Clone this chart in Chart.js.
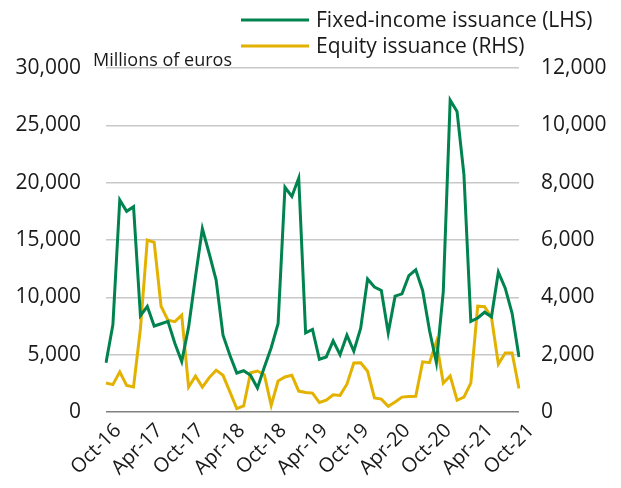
<!DOCTYPE html>
<html>
<head>
<meta charset="utf-8">
<script src="https://cdn.jsdelivr.net/npm/chart.js@4/dist/chart.umd.min.js"></script>
<style>
  html, body { margin: 0; padding: 0; background: #ffffff; }
  #wrap { width: 621px; height: 488px; }
</style>
</head>
<body>
<div id="wrap"><canvas id="chart" width="621" height="488"></canvas></div>
<script>
// Monthly issuance, Oct-16 to Oct-21
const months = [
  "Oct-16","Nov-16","Dec-16","Jan-17","Feb-17","Mar-17","Apr-17","May-17","Jun-17","Jul-17","Aug-17","Sep-17",
  "Oct-17","Nov-17","Dec-17","Jan-18","Feb-18","Mar-18","Apr-18","May-18","Jun-18","Jul-18","Aug-18","Sep-18",
  "Oct-18","Nov-18","Dec-18","Jan-19","Feb-19","Mar-19","Apr-19","May-19","Jun-19","Jul-19","Aug-19","Sep-19",
  "Oct-19","Nov-19","Dec-19","Jan-20","Feb-20","Mar-20","Apr-20","May-20","Jun-20","Jul-20","Aug-20","Sep-20",
  "Oct-20","Nov-20","Dec-20","Jan-21","Feb-21","Mar-21","Apr-21","May-21","Jun-21","Jul-21","Aug-21","Sep-21",
  "Oct-21"
];

// Fixed-income issuance, millions of euros (left axis)
const fixedIncome = [
  4300, 7600, 18500, 17500, 17900, 8400, 9200, 7500, 7700, 7900, 6000, 4400,
  7400, 11800, 16000, 13800, 11500, 6700, 4950, 3400, 3600, 3200, 2100, 3900,
  5600, 7700, 19600, 18800, 20400, 6900, 7200, 4600, 4800, 6200, 5000, 6700,
  5300, 7300, 11600, 10900, 10600, 6900, 10100, 10300, 11900, 12400, 10600, 7100,
  4300, 10500, 27200, 26200, 20700, 7900, 8200, 8700, 8300, 12200, 10800, 8600,
  4800
];

// Equity issuance, millions of euros (right axis)
const equity = [
  1010, 955, 1400, 930, 875, 2900, 6000, 5920, 3690, 3200, 3150, 3380,
  870, 1250, 870, 1200, 1460, 1280, 700, 120, 210, 1370, 1430, 1300,
  230, 1080, 1220, 1280, 730, 680, 660, 330, 410, 600, 580, 970,
  1710, 1720, 1420, 490, 450, 200, 350, 520, 540, 550, 1750, 1720,
  2450, 1010, 1260, 410, 520, 1010, 3690, 3670, 3300, 1670, 2060, 2060,
  820
];

const seriesNames = ["Fixed-income issuance (LHS)", "Equity issuance (RHS)"];
const unitLabel = "Millions of euros";

const GREEN = "#00834f";
const GOLD = "#e3b200";
const TEXT = "#1a1a1a";
const FONT = "'Open Sans', 'Noto Sans', sans-serif";

// Legend stacked at the top right, plus the unit caption over the left axis
const headerPlugin = {
  id: "header",
  afterDraw(chart) {
    const ctx = chart.ctx;
    ctx.save();
    ctx.font = "21px " + FONT;
    ctx.textBaseline = "middle";
    ctx.textAlign = "left";
    const rows = [20, 46];
    chart.data.datasets.forEach((ds, i) => {
      ctx.strokeStyle = ds.borderColor;
      ctx.lineWidth = 3;
      ctx.beginPath();
      ctx.moveTo(241, rows[i]);
      ctx.lineTo(309, rows[i]);
      ctx.stroke();
      ctx.fillStyle = TEXT;
      ctx.fillText(ds.label, 316, rows[i] + 1);
    });
    ctx.font = "18px " + FONT;
    ctx.textBaseline = "alphabetic";
    ctx.fillText(unitLabel, 93, 66);
    ctx.restore();
  }
};

new Chart(document.getElementById("chart"), {
  type: "line",
  data: {
    labels: months,
    datasets: [
      {
        label: seriesNames[0],
        data: fixedIncome,
        yAxisID: "yL",
        borderColor: GREEN,
        borderWidth: 3,
        pointRadius: 0,
        tension: 0,
        fill: false
      },
      {
        label: seriesNames[1],
        data: equity,
        yAxisID: "yR",
        borderColor: GOLD,
        borderWidth: 3,
        pointRadius: 0,
        tension: 0,
        fill: false
      }
    ]
  },
  options: {
    responsive: false,
    animation: false,
    layout: { padding: { top: 68, left: 0, right: 0, bottom: 0 } },
    plugins: {
      legend: { display: false },
      tooltip: { enabled: false }
    },
    scales: {
      x: {
        offset: false,
        grid: { display: false, drawTicks: false },
        border: { display: false },
        afterFit(scale) { scale.height = 76; },
        ticks: {
          autoSkip: false,
          minRotation: 45,
          maxRotation: 45,
          padding: 7,
          labelOffset: 12,
          color: TEXT,
          font: { family: FONT, size: 20 },
          callback(value, index) {
            return index % 6 === 0 ? months[index] : null;
          }
        }
      },
      yL: {
        position: "left",
        min: 0,
        max: 30000,
        afterFit(scale) { scale.width = 106; },
        border: { display: false },
        grid: {
          drawTicks: false,
          lineWidth: 1.5,
          color(ctx) { return ctx.tick && ctx.tick.value === 0 ? "#808080" : "#c8c8c8"; }
        },
        ticks: {
          stepSize: 5000,
          padding: 25,
          color: TEXT,
          font: { family: FONT, size: 21 },
          callback(v) { return v.toLocaleString("en-US"); }
        }
      },
      yR: {
        position: "right",
        min: 0,
        max: 12000,
        afterFit(scale) { scale.width = 102; },
        border: { display: false },
        grid: { display: false, drawTicks: false },
        ticks: {
          stepSize: 2000,
          padding: 22,
          color: TEXT,
          font: { family: FONT, size: 21 },
          callback(v) { return v.toLocaleString("en-US"); }
        }
      }
    }
  },
  plugins: [headerPlugin]
});
</script>
</body>
</html>
